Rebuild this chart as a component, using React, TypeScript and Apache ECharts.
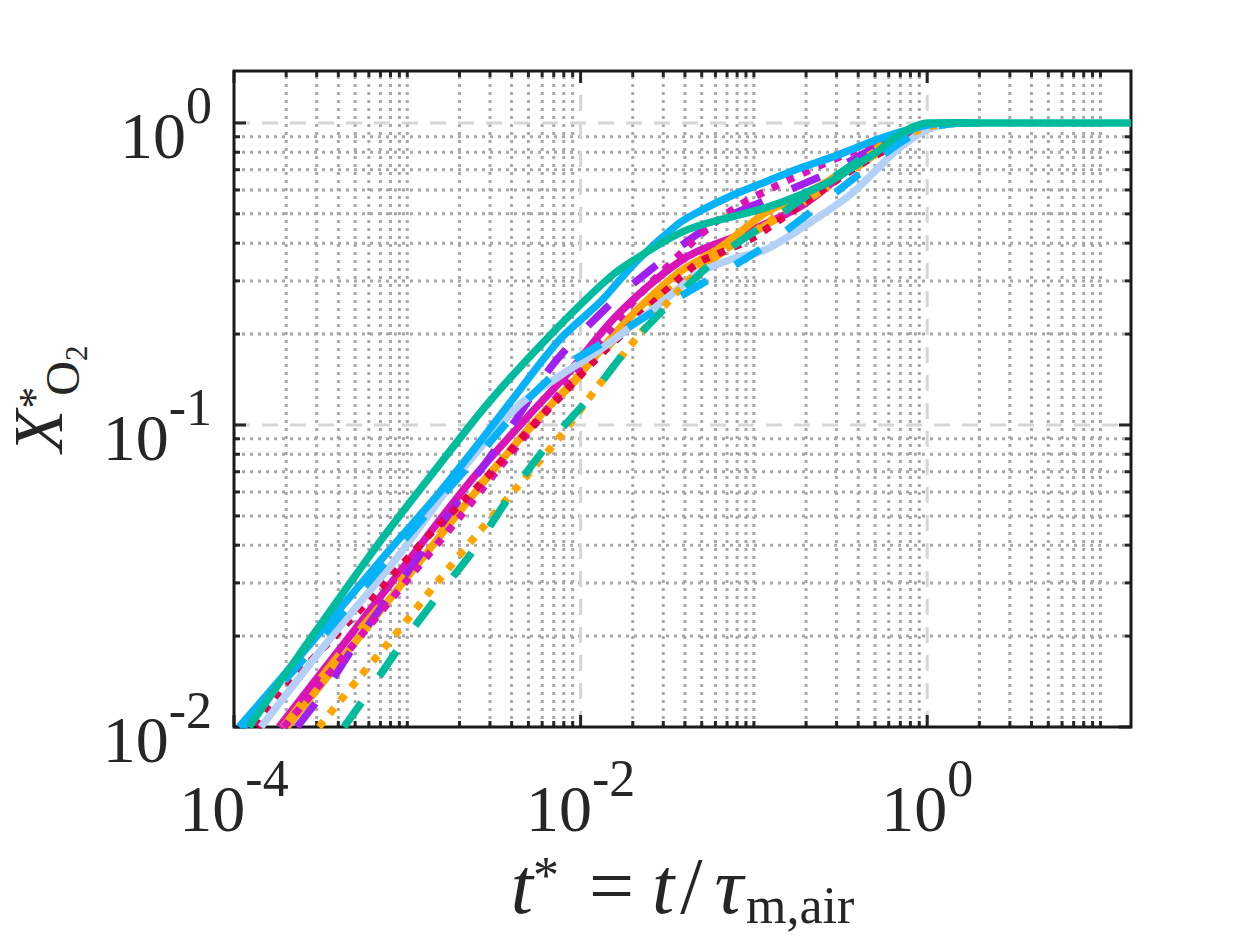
import React, { useEffect, useRef } from "react";
import * as echarts from "echarts";

// ---------- axes ----------
const X_MIN = 1e-4;
const X_MAX = 15;
const Y_MIN = 0.01;
const Y_MAX = 1.486;

const X_LABEL_EXPONENTS = [-4, -2, 0];
const Y_LABEL_EXPONENTS = [-2, -1, 0];
const X_MAJOR_TICKS = [1e-4, 1e-2, 1];
const Y_MAJOR_TICKS = [0.01, 0.1, 1];
const X_MAJOR_GRID = [1e-2, 1];
const Y_MAJOR_GRID = [0.1, 1];
const X_MINOR = [
  2e-4, 3e-4, 4e-4, 5e-4, 6e-4, 7e-4, 8e-4, 9e-4, 1e-3,
  2e-3, 3e-3, 4e-3, 5e-3, 6e-3, 7e-3, 8e-3, 9e-3,
  2e-2, 3e-2, 4e-2, 5e-2, 6e-2, 7e-2, 8e-2, 9e-2, 1e-1,
  2e-1, 3e-1, 4e-1, 5e-1, 6e-1, 7e-1, 8e-1, 9e-1,
  2, 3, 4, 5, 6, 7, 8, 9, 10,
];
const Y_MINOR = [
  0.02, 0.03, 0.04, 0.05, 0.06, 0.07, 0.08, 0.09,
  0.2, 0.3, 0.4, 0.5, 0.6, 0.7, 0.8, 0.9,
];

// ---------- data (t*, X*_O2) ----------
const tealSolidT = [1.22e-4, 2.37e-4, 6.85e-4, 1.52e-3, 2.95e-3, 6.81e-3, 0.0151, 0.0237, 0.0367, 0.0479, 0.0742, 0.1165, 0.1805, 0.2797, 0.4, 0.522, 0.681, 0.83, 1.01, 1.5, 15];
const tealSolidX = [0.01, 0.0173, 0.0406, 0.0735, 0.1187, 0.2007, 0.312, 0.3716, 0.4297, 0.4566, 0.489, 0.5236, 0.5737, 0.643, 0.732, 0.808, 0.913, 0.97, 1.0, 1.0, 1.0];

const blueSolidT = [1.07e-4, 2.37e-4, 7.04e-4, 1.52e-3, 2.58e-3, 4.0e-3, 7.47e-3, 0.0132, 0.0207, 0.0367, 0.0479, 0.0742, 0.1165, 0.1805, 0.307, 0.522, 0.853, 1.24, 1.97];
const blueSolidX = [0.01, 0.017, 0.0357, 0.0594, 0.0869, 0.1205, 0.1902, 0.258, 0.345, 0.464, 0.508, 0.574, 0.638, 0.705, 0.784, 0.885, 0.963, 1.0, 1.0];

const blueDashT = [1.13e-4, 2.57e-4, 7.62e-4, 1.64e-3, 2.95e-3, 5.02e-3, 7.98e-3, 0.0127, 0.0247, 0.0479, 0.1061, 0.206, 0.4, 0.681, 1.013, 1.509];
const blueDashX = [0.01, 0.017, 0.0357, 0.0594, 0.0869, 0.1224, 0.1561, 0.1832, 0.2318, 0.2892, 0.3776, 0.5003, 0.673, 0.852, 0.9627, 1.0];

const lavenderT = [1.43e-4, 3.53e-4, 8.93e-4, 2.06e-3, 4.39e-3, 7.47e-3, 0.0127, 0.0216, 0.0367, 0.0479, 0.0762, 0.1165, 0.206, 0.3648, 0.5017, 0.681, 1.013, 1.509];
const lavenderX = [0.01, 0.0194, 0.037, 0.0707, 0.116, 0.1446, 0.1763, 0.2215, 0.2826, 0.3192, 0.3551, 0.3804, 0.4637, 0.5824, 0.694, 0.8204, 0.9554, 1.0];

const magentaSolidT = [1.82e-4, 4.03e-4, 1.02e-3, 2.26e-3, 5.02e-3, 8.53e-3, 0.01656, 0.0403, 0.0893, 0.1805, 0.2688, 0.3846, 0.522, 0.727, 1.013, 1.612];
const magentaSolidX = [0.01, 0.01797, 0.03565, 0.0641, 0.1075, 0.1492, 0.2337, 0.3579, 0.433, 0.5236, 0.619, 0.7377, 0.8395, 0.9196, 0.9775, 1.0];

const magentaDotT = [1.94e-4, 4.6e-4, 1.02e-3, 1.98e-3, 3.37e-3, 6.54e-3, 0.0127, 0.0216, 0.0367, 0.0547, 0.0814, 0.1384, 0.2449, 0.3648, 0.5728, 0.887, 1.321];
const magentaDotX = [0.01, 0.01797, 0.0311, 0.0491, 0.0718, 0.1143, 0.1859, 0.268, 0.3633, 0.4497, 0.5316, 0.6237, 0.7265, 0.802, 0.892, 0.97, 1.0];

const crimsonDotT = [1.36e-4, 1.94e-4, 2.6e-4, 3.53e-4, 6.85e-4, 1.33e-3, 2.76e-3, 4.82e-3, 7.47e-3, 0.01157, 0.01817, 0.0282, 0.0479, 0.0685, 0.0967, 0.144, 0.2353, 0.4, 0.681, 1.013, 1.509];
const crimsonDotX = [0.01, 0.01325, 0.0159, 0.0191, 0.0284, 0.0431, 0.0655, 0.0937, 0.1224, 0.1597, 0.2053, 0.2639, 0.3446, 0.3776, 0.4136, 0.4816, 0.5869, 0.7209, 0.8589, 0.9627, 1.0];

const orangeDotT = [3.09e-4, 5.25e-4, 8.93e-4, 1.52e-3, 2.58e-3, 4.39e-3, 7.47e-3, 0.0127, 0.0216, 0.0367, 0.0584, 0.1061, 0.1805, 0.307, 0.457, 0.681, 1.013, 1.509];
const orangeDotX = [0.01, 0.01452, 0.0209, 0.0306, 0.0441, 0.0631, 0.0902, 0.1351, 0.1976, 0.2783, 0.3579, 0.4463, 0.5522, 0.668, 0.778, 0.8853, 0.97, 1.0];

const tealDashT = [4.31e-4, 5.47e-4, 8.93e-4, 1.48e-3, 2.48e-3, 4.0e-3, 6.54e-3, 0.01112, 0.01967, 0.0353, 0.065, 0.133, 0.2583, 0.522, 0.777, 1.157, 1.723];
const tealDashX = [0.01, 0.0121, 0.01825, 0.0269, 0.03936, 0.0594, 0.0869, 0.1224, 0.1859, 0.2639, 0.3662, 0.4853, 0.6334, 0.8269, 0.941, 0.9924, 1.0];

const orangeSolidT = [2.02e-4, 4.6e-4, 1.02e-3, 2.26e-3, 5.02e-3, 9.74e-3, 0.01891, 0.0367, 0.0624, 0.1165, 0.1805, 0.2688, 0.4, 0.5959, 0.887, 1.412];
const orangeSolidX = [0.01, 0.01797, 0.0318, 0.0563, 0.0974, 0.1458, 0.225, 0.3192, 0.3834, 0.504, 0.5691, 0.643, 0.7489, 0.872, 0.9627, 1.0];

const orangeDashT = [1.92e-4, 4.03e-4, 8.93e-4, 1.98e-3, 4.39e-3, 9.11e-3, 0.01656, 0.0282, 0.0479, 0.093, 0.1805, 0.3505, 0.5959, 0.948, 1.412];
const orangeDashX = [0.01, 0.0173, 0.0299, 0.0522, 0.0889, 0.1382, 0.1976, 0.2619, 0.3292, 0.4231, 0.5316, 0.6833, 0.8395, 0.9554, 1.0];

const purpleDashT = [2.31e-4, 3.53e-4, 5.4e-4, 1.02e-3, 1.98e-3, 3.85e-3, 6.99e-3, 0.0145, 0.0271, 0.0561, 0.1213, 0.2688, 0.522, 0.887, 1.509];
const purpleDashX = [0.01, 0.01377, 0.0201, 0.033, 0.0563, 0.0959, 0.1597, 0.2483, 0.3368, 0.4566, 0.5608, 0.6833, 0.8395, 0.941, 0.9924];

// ---------- styles ----------
const TEAL = "#00BC9C";
const BLUE = "#08B2F6";
const LAVENDER = "#B3D1F7";
const MAGENTA = "#DA14B6";
const PURPLE = "#A020F0";
const ORANGE = "#FFA500";
const CRIMSON = "#E5004F";

const SOLID: any = "solid";
const DASH = [30, 32];
const DOT = [7.5, 9.5];
const LINE_W = 7.5;

const FONT = "'Liberation Serif', 'Times New Roman', serif";
const INK = "#262626";

const SERIES_DEFS = [
  { name: "magenta solid", t: magentaSolidT, x: magentaSolidX, color: MAGENTA, dash: SOLID },
  { name: "orange solid", t: orangeSolidT, x: orangeSolidX, color: ORANGE, dash: SOLID },
  { name: "orange dashed", t: orangeDashT, x: orangeDashX, color: ORANGE, dash: DASH },
  { name: "purple dashed", t: purpleDashT, x: purpleDashX, color: PURPLE, dash: DASH },
  { name: "magenta dotted", t: magentaDotT, x: magentaDotX, color: MAGENTA, dash: DOT },
  { name: "crimson dotted", t: crimsonDotT, x: crimsonDotX, color: CRIMSON, dash: DOT },
  { name: "lavender solid", t: lavenderT, x: lavenderX, color: LAVENDER, dash: SOLID },
  { name: "orange dotted", t: orangeDotT, x: orangeDotX, color: ORANGE, dash: DOT },
  { name: "teal dashed", t: tealDashT, x: tealDashX, color: TEAL, dash: DASH },
  { name: "blue dashed", t: blueDashT, x: blueDashX, color: BLUE, dash: DASH },
  { name: "blue solid", t: blueSolidT, x: blueSolidX, color: BLUE, dash: SOLID },
  { name: "teal solid", t: tealSolidT, x: tealSolidX, color: TEAL, dash: SOLID },
];

function powLabel(allowed: number[]) {
  return (value: number) => {
    const e = Math.log10(value);
    const r = Math.round(e);
    if (Math.abs(e - r) > 1e-6) return "";
    if (allowed.indexOf(r) < 0) return "";
    return `{b|10}{s|${r}}`;
  };
}

const labelRich = {
  b: { fontSize: 66, fontFamily: FONT, color: INK, padding: [25, 0, 0, 0] },
  s: { fontSize: 52, fontFamily: FONT, color: INK, padding: [0, 0, 34, 0] },
};

export default function App() {
  const ref = useRef<HTMLDivElement>(null);

  useEffect(() => {
    document.body.style.margin = "0";
    if (!ref.current) return;
    const chart = echarts.init(ref.current, null, { renderer: "svg" });

    const series = SERIES_DEFS.map((d) => ({
      name: d.name,
      type: "line",
      data: d.t.map((tv, i) => [tv, d.x[i]]),
      showSymbol: false,
      symbol: "none",
      smooth: 0.3,
      clip: false,
      lineStyle: { color: d.color, width: LINE_W, type: d.dash, cap: "butt", join: "round" },
      silent: true,
    }));

    chart.setOption({
      animation: false,
      backgroundColor: "#ffffff",
      grid: {
        left: 234,
        right: 119,
        top: 71,
        bottom: 211,
        containLabel: false,
        outerBoundsMode: "none",
      },
      xAxis: {
        type: "log",
        logBase: 10,
        min: X_MIN,
        max: X_MAX,
        axisLine: { show: false },
        axisTick: { show: false },
        splitLine: { show: false },
        axisLabel: {
          margin: 23,
          formatter: powLabel(X_LABEL_EXPONENTS),
          rich: labelRich,
        },
        name: "{it|t}{sup|*}{eq|=}{it|t}{sl|/}{tau|τ}{sub|m,air}",
        nameLocation: "middle",
        nameGap: 106,
        nameTextStyle: {
          fontFamily: FONT,
          color: INK,
          rich: {
            it: { fontSize: 80, fontStyle: "italic", fontFamily: FONT, color: INK },
            tau: { fontSize: 80, fontStyle: "italic", fontFamily: FONT, color: INK, padding: [0, 3, 0, 3] },
            eq: { fontSize: 80, fontFamily: FONT, color: INK, padding: [0, 18, 0, 30] },
            sl: { fontSize: 80, fontFamily: FONT, color: INK, padding: [0, 9, 0, 6] },
            sup: { fontSize: 52, fontFamily: FONT, color: INK, padding: [0, 0, 20, 0] },
            sub: { fontSize: 52, fontFamily: FONT, color: INK, padding: [39, 0, 0, 0] },
          },
        },
      },
      yAxis: {
        type: "log",
        logBase: 10,
        min: Y_MIN,
        max: Y_MAX,
        axisLine: { show: false },
        axisTick: { show: false },
        splitLine: { show: false },
        axisLabel: {
          margin: 22,
          formatter: powLabel(Y_LABEL_EXPONENTS),
          rich: labelRich,
        },
        name: "{x|X}{st|*}{o|O}{two|2}",
        nameLocation: "middle",
        nameRotate: 90,
        nameGap: 137,
        nameTextStyle: {
          fontFamily: FONT,
          color: INK,
          rich: {
            x: { fontSize: 70, fontStyle: "italic", fontFamily: FONT, color: INK, verticalAlign: "bottom", padding: [0, 0, 19, 0] },
            st: { fontSize: 44, fontFamily: FONT, color: INK, width: 4, verticalAlign: "bottom", padding: [0, 0, 36, 10] },
            o: { fontSize: 48, fontFamily: FONT, color: INK, verticalAlign: "bottom", padding: [0, 0, 6, 0] },
            two: { fontSize: 31, fontFamily: FONT, color: INK, verticalAlign: "bottom", padding: [0, 0, 1, 0] },
          },
        },
      },
      series,
    });

    const px = (v: number) => chart.convertToPixel({ xAxisIndex: 0 }, v) as number;
    const py = (v: number) => chart.convertToPixel({ yAxisIndex: 0 }, v) as number;
    const xl = px(X_MIN);
    const xr = px(X_MAX);
    const yb = py(Y_MIN);
    const yt = py(Y_MAX);

    const els: any[] = [];
    const minorStyle = { stroke: "#a8a8a8", lineWidth: 3, lineDash: [3, 5] };
    const majorStyle = { stroke: "#d6d6d6", lineWidth: 3, lineDash: [16, 12] };
    const tickStyle = { stroke: INK, lineWidth: 3 };
    const line = (x1: number, y1: number, x2: number, y2: number, style: any, z = 0) =>
      els.push({ type: "line", silent: true, z, shape: { x1, y1, x2, y2 }, style });

    X_MINOR.forEach((v) => { const x = px(v); line(x, yb, x, yt, minorStyle); });
    Y_MINOR.forEach((v) => { const y = py(v); line(xl, y, xr, y, minorStyle); });
    X_MAJOR_GRID.forEach((v) => { const x = px(v); line(x, yb, x, yt, majorStyle); });
    Y_MAJOR_GRID.forEach((v) => { const y = py(v); line(xl, y, xr, y, majorStyle); });

    const MAJ = 12;
    const MIN = 6;
    X_MAJOR_TICKS.forEach((v) => {
      const x = px(v);
      line(x, yb, x, yb - MAJ, tickStyle, 1);
      line(x, yt, x, yt + MAJ, tickStyle, 1);
    });
    X_MINOR.forEach((v) => {
      const x = px(v);
      line(x, yb, x, yb - MIN, tickStyle, 1);
      line(x, yt, x, yt + MIN, tickStyle, 1);
    });
    Y_MAJOR_TICKS.forEach((v) => {
      const y = py(v);
      line(xl, y, xl + MAJ, y, tickStyle, 1);
      line(xr, y, xr - MAJ, y, tickStyle, 1);
    });
    Y_MINOR.forEach((v) => {
      const y = py(v);
      line(xl, y, xl + MIN, y, tickStyle, 1);
      line(xr, y, xr - MIN, y, tickStyle, 1);
    });
    els.push({
      type: "rect",
      silent: true,
      z: 1,
      shape: { x: xl, y: yt, width: xr - xl, height: yb - yt },
      style: { fill: "none", stroke: "#1a1a1a", lineWidth: 3 },
    });

    chart.setOption({ graphic: { elements: els } });

    return () => chart.dispose();
  }, []);

  return <div ref={ref} style={{ width: 1250, height: 938 }} />;
}
